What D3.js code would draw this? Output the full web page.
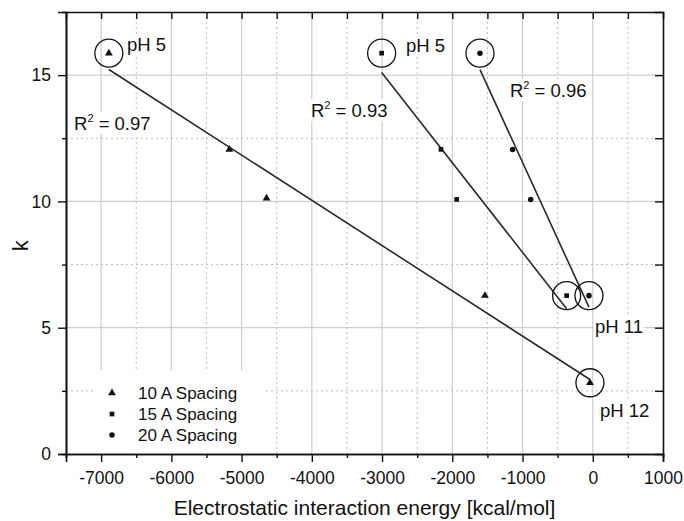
<!DOCTYPE html>
<html>
<head>
<meta charset="utf-8">
<script src="https://cdn.jsdelivr.net/npm/d3@7"></script>
<style>
  body { margin: 0; background: #fff; }
  svg text { font-family: "Liberation Sans", Arial, sans-serif; fill: #111; }
</style>
</head>
<body>
<div id="chart"></div>
<script>
// values
var energy10 = [-6890, -5175, -4645, -1535, -40];
var k10 = [15.87, 12.06, 10.13, 6.27, 2.82];
var energy15 = [-3006, -2161, -1938, -372];
var k15 = [15.87, 12.06, 10.08, 6.27];
var energy20 = [-1606, -1141, -884, -54];
var k20 = [15.87, 12.06, 10.08, 6.27];

var seriesNames = ["10 A Spacing", "15 A Spacing", "20 A Spacing"];
var r2Labels = ["0.97", "0.93", "0.96"];
var xTicks = [-7000, -6000, -5000, -4000, -3000, -2000, -1000, 0, 1000];
var yTicks = [0, 5, 10, 15];

var width = 684, height = 521;
var margin = {top: 12, right: 21, bottom: 67, left: 66};

var x = d3.scaleLinear().domain([-7500, 1000]).range([margin.left, width - margin.right]);
var y = d3.scaleLinear().domain([0, 17.5]).range([height - margin.bottom, margin.top]);

var svg = d3.select("#chart").append("svg")
    .attr("width", width)
    .attr("height", height);

var series = [
  {name: seriesNames[0], xs: energy10, ys: k10, shape: d3.symbolTriangle, size: 26, r2: r2Labels[0]},
  {name: seriesNames[1], xs: energy15, ys: k15, shape: d3.symbolSquare, size: 22, r2: r2Labels[1]},
  {name: seriesNames[2], xs: energy20, ys: k20, shape: d3.symbolCircle, size: 24, r2: r2Labels[2]}
];

// minor values sit halfway between majors
var xMinor = d3.range(-7500, 1001, 500).filter(function(v) { return v % 1000 !== 0; });
var yMinor = [2.5, 7.5, 12.5];

// grid
var grid = svg.append("g");
grid.selectAll(".gx").data(xTicks.slice(0, -1)).enter().append("line")
    .attr("x1", x).attr("x2", x)
    .attr("y1", y(0)).attr("y2", y(17.5))
    .attr("stroke", "#cdcdcd").attr("stroke-width", 1.2);
grid.selectAll(".gxm").data(xMinor).enter().append("line")
    .attr("x1", x).attr("x2", x)
    .attr("y1", y(0)).attr("y2", y(17.5))
    .attr("stroke", "#bdbdbd").attr("stroke-width", 1).attr("stroke-dasharray", "2,3");
grid.selectAll(".gy").data(yTicks.slice(1)).enter().append("line")
    .attr("x1", x(-7500)).attr("x2", x(1000))
    .attr("y1", y).attr("y2", y)
    .attr("stroke", "#cdcdcd").attr("stroke-width", 1.2);
grid.selectAll(".gym").data(yMinor).enter().append("line")
    .attr("x1", x(-7500)).attr("x2", x(1000))
    .attr("y1", y).attr("y2", y)
    .attr("stroke", "#bdbdbd").attr("stroke-width", 1).attr("stroke-dasharray", "2,3");

// legend box hides the grid underneath
svg.append("rect")
    .attr("x", 95).attr("y", 370)
    .attr("width", 168).attr("height", 83)
    .attr("fill", "#fff");

// axes
var bottom = svg.append("g")
    .attr("transform", "translate(0," + y(0) + ")")
    .call(d3.axisBottom(x).tickValues(xTicks).tickSize(8).tickPadding(10).tickFormat(d3.format("d")));
svg.append("g")
    .attr("transform", "translate(0," + y(0) + ")")
    .call(d3.axisBottom(x).tickValues(xMinor).tickSize(4).tickFormat(""));
var left = svg.append("g")
    .attr("transform", "translate(" + x(-7500) + ",0)")
    .call(d3.axisLeft(y).tickValues(yTicks).tickSize(8).tickPadding(7));
svg.append("g")
    .attr("transform", "translate(" + x(-7500) + ",0)")
    .call(d3.axisLeft(y).tickValues(yMinor).tickSize(4).tickFormat(""));
svg.append("g")
    .attr("transform", "translate(0," + y(17.5) + ")")
    .call(d3.axisBottom(x).tickValues(d3.range(-7000, 1000, 500)).tickSize(7).tickFormat(""));
svg.append("g")
    .attr("transform", "translate(" + x(1000) + ",0)")
    .call(d3.axisLeft(y).tickValues(d3.range(2.5, 17.5, 2.5)).tickSize(8).tickFormat(""));

svg.selectAll(".domain").attr("stroke", "#111").attr("stroke-width", 1.6);
svg.selectAll(".tick line").attr("stroke", "#111").attr("stroke-width", 1.4);
svg.selectAll(".tick text").attr("font-size", null).style("font-size", "17.5px").attr("fill", "#111");
bottom.selectAll(".tick text").text(function(d) { return d < 0 ? "-" + Math.abs(d) : d; });

svg.append("text")
    .attr("x", (x(-7500) + x(1000)) / 2)
    .attr("y", 515)
    .attr("text-anchor", "middle")
    .style("font-size", "21px")
    .text("Electrostatic interaction energy [kcal/mol]");

svg.append("text")
    .attr("transform", "translate(28," + y(8.25) + ") rotate(-90)")
    .attr("text-anchor", "middle")
    .style("font-size", "22px")
    .text("k");

// least squares fit, drawn between the extreme points of each series
series.forEach(function(s) {
  var mx = d3.mean(s.xs), my = d3.mean(s.ys);
  var sxy = d3.sum(s.xs, function(v, i) { return (v - mx) * (s.ys[i] - my); });
  var sxx = d3.sum(s.xs, function(v) { return (v - mx) * (v - mx); });
  var slope = sxy / sxx, icpt = my - slope * mx;
  var ends = d3.extent(s.xs);
  svg.append("line")
      .attr("x1", x(ends[0])).attr("y1", y(slope * ends[0] + icpt))
      .attr("x2", x(ends[1])).attr("y2", y(slope * ends[1] + icpt))
      .attr("stroke", "#2a2a2a").attr("stroke-width", 1.6);
});

// points
series.forEach(function(s) {
  var pts = s.xs.map(function(v, i) { return [v, s.ys[i]]; });
  svg.append("g").selectAll("path").data(pts).enter().append("path")
      .attr("transform", function(d) { return "translate(" + x(d[0]) + "," + y(d[1]) + ")"; })
      .attr("d", d3.symbol().type(s.shape).size(s.size))
      .attr("fill", "#111");
  // the pH 5 and high-pH ends are circled
  svg.append("g").selectAll("circle").data([pts[0], pts[pts.length - 1]]).enter().append("circle")
      .attr("cx", function(d) { return x(d[0]); })
      .attr("cy", function(d) { return y(d[1]); })
      .attr("r", 14)
      .attr("fill", "none")
      .attr("stroke", "#111")
      .attr("stroke-width", 1.3);
});

// annotation text with a white backing
function label(px, py, txt, sup) {
  var g = svg.append("g");
  var bg = g.append("rect").attr("fill", "#fff");
  var t = g.append("text").attr("x", px).attr("y", py).style("font-size", "18.5px");
  if (sup) {
    t.append("tspan").text("R");
    t.append("tspan").attr("dy", -8).style("font-size", "11px").text("2");
    t.append("tspan").attr("dy", 8).text(" = " + txt);
  } else {
    t.text(txt);
  }
  var b = t.node().getBBox();
  bg.attr("x", b.x - 1).attr("y", b.y).attr("width", b.width + 2).attr("height", b.height);
}

label(x(-6632), y(15.96), "pH 5");
label(x(-2659), y(15.92), "pH 5");
label(x(-7386), y(12.83), series[0].r2, true);
label(x(-4012), y(13.34), series[1].r2, true);
label(x(-1179), y(14.13), series[2].r2, true);
label(x(31), y(4.79), "pH 11");
label(x(102), y(1.46), "pH 12");

// legend
series.forEach(function(s, i) {
  var ly = 393 + i * 21;
  svg.append("path")
      .attr("transform", "translate(112," + ly + ")")
      .attr("d", d3.symbol().type(s.shape).size(s.size))
      .attr("fill", "#111");
  svg.append("text")
      .attr("x", 138).attr("y", ly)
      .attr("dy", "0.36em")
      .style("font-size", "17px")
      .text(s.name);
});
</script>
</body>
</html>
